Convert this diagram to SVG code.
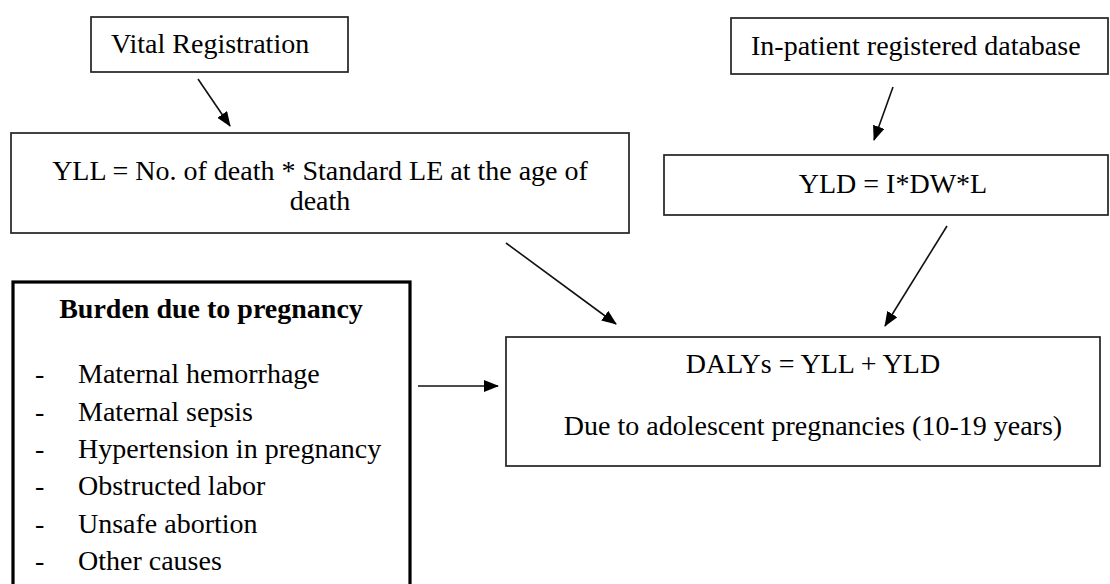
<svg xmlns="http://www.w3.org/2000/svg" width="1110" height="584" viewBox="0 0 1110 584">
<defs>
<style>
.box{fill:#fff;stroke:#222;stroke-width:1.7}
.thick{fill:#fff;stroke:#000;stroke-width:3.2}
.t{font-family:"Liberation Serif","Times New Roman",serif;font-size:28px;fill:#000}
.b{font-weight:bold}
.c{stroke:#111;stroke-width:1.6;fill:none;marker-end:url(#ah)}
</style>
<marker id="ah" viewBox="0 0 15 12" refX="14" refY="6" markerWidth="15" markerHeight="12" markerUnits="userSpaceOnUse" orient="auto"><path d="M0,0 L15,6 L0,12 z" fill="#000"/></marker>
</defs>
<rect width="1110" height="584" fill="#fff"/>
<g id="connectors">
<line class="c" x1="198" y1="79" x2="230" y2="126"/>
<line class="c" x1="893" y1="87" x2="874" y2="140"/>
<line class="c" x1="506" y1="243" x2="616" y2="324"/>
<line class="c" x1="947" y1="226" x2="885" y2="326"/>
<line class="c" x1="418" y1="386" x2="498" y2="386"/>
</g>
<g id="vital">
<rect class="box" x="91" y="17" width="257" height="55"/>
<text class="t" x="111" y="53">Vital Registration</text>
</g>
<g id="inpatient">
<rect class="box" x="731" y="18" width="377" height="56"/>
<text class="t" x="751" y="55">In-patient registered database</text>
</g>
<g id="yll">
<rect class="box" x="11" y="133" width="618" height="100"/>
<text class="t" x="320" y="180" text-anchor="middle">YLL = No. of death * Standard LE at the age of</text>
<text class="t" x="320" y="210" text-anchor="middle">death</text>
</g>
<g id="yld">
<rect class="box" x="664" y="155" width="444" height="60"/>
<text class="t" x="893" y="193" text-anchor="middle">YLD = I*DW*L</text>
</g>
<g id="burden">
<rect class="thick" x="13" y="282" width="397" height="330"/>
<text class="t b" x="211" y="318" text-anchor="middle">Burden due to pregnancy</text>
<g class="t">
<text x="35" y="383">-</text><text x="78" y="383">Maternal hemorrhage</text>
<text x="35" y="421">-</text><text x="78" y="421">Maternal sepsis</text>
<text x="35" y="458">-</text><text x="78" y="458">Hypertension in pregnancy</text>
<text x="35" y="495">-</text><text x="78" y="495">Obstructed labor</text>
<text x="35" y="533">-</text><text x="78" y="533">Unsafe abortion</text>
<text x="35" y="570">-</text><text x="78" y="570">Other causes</text>
</g>
</g>
<g id="dalys">
<rect class="box" x="506" y="337" width="594" height="129"/>
<text class="t" x="813" y="373" text-anchor="middle">DALYs = YLL + YLD</text>
<text class="t" x="813" y="435" text-anchor="middle">Due to adolescent pregnancies (10-19 years)</text>
</g>
</svg>
